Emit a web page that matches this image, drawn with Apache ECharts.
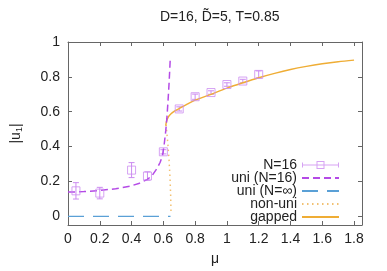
<!DOCTYPE html>
<html>
<head>
<meta charset="utf-8">
<script src="https://cdn.jsdelivr.net/npm/echarts@6/dist/echarts.min.js"></script>
<style>html,body{margin:0;padding:0;background:#fff}#c{width:387px;height:271px}</style>
</head>
<body>
<div id="c"></div>
<script>
// N=16 data points with error bars
var ptMu  = [0.05, 0.2, 0.4, 0.5, 0.6, 0.7, 0.8, 0.9, 1.0, 1.1, 1.2];
var ptU   = [0.146, 0.133, 0.265, 0.231, 0.37, 0.616, 0.686, 0.71, 0.756, 0.776, 0.814];
var ptErr = [0.047, 0.033, 0.043, 0.024, 0.012, 0.012, 0.015, 0.01, 0.01, 0.01, 0.02];
// uni (N=16)
var uniMu = [0, 0.05, 0.1, 0.2, 0.3, 0.4, 0.45, 0.5, 0.53, 0.56, 0.58, 0.595, 0.605, 0.615, 0.622, 0.63, 0.637, 0.643];
var uniU  = [0.14, 0.14, 0.142, 0.148, 0.158, 0.175, 0.19, 0.212, 0.235, 0.275, 0.31, 0.35, 0.41, 0.49, 0.56, 0.67, 0.78, 0.895];
// uni (N=inf)
var infMu = [0, 0.645];
var infU  = [0, 0];
// non-uni
var nonMu = [0.648, 0.646, 0.642, 0.636, 0.628, 0.617];
var nonU  = [0.03, 0.12, 0.22, 0.32, 0.42, 0.525];
// gapped
var gapMu = [0.615, 0.62, 0.63, 0.645, 0.67, 0.7, 0.75, 0.8, 0.9, 1.0, 1.1, 1.2, 1.3, 1.4, 1.5, 1.6, 1.7, 1.8];
var gapU  = [0.52, 0.545, 0.568, 0.585, 0.603, 0.618, 0.643, 0.666, 0.70, 0.735, 0.766, 0.795, 0.82, 0.842, 0.86, 0.875, 0.887, 0.896];
// ticks
var xTicks = [0, 0.2, 0.4, 0.6, 0.8, 1, 1.2, 1.4, 1.6, 1.8];
var yTicks = [0, 0.2, 0.4, 0.6, 0.8, 1];

function zip(a, b) { return a.map(function (v, i) { return [v, b[i]]; }); }

var ptColor = '#cc8cf0';
var uniColor = '#b44ae6';
var infColor = '#5aa0d6';
var nonColor = '#f2c070';
var gapColor = '#efad35';
var frame = '#666';
var font = 'Liberation Sans, Arial, sans-serif';

var errIcon = 'path://M0,3.5h37v1h-37z M0,1.5h1v5h-1z M36,1.5h1v5h-1z M14.5,0h8v1h-8z M14.5,7h8v1h-8z M14.5,0h1v8h-1z M21.5,0h1v8h-1z';
var hideSym = {opacity: 0};

var chart = echarts.init(document.getElementById('c'), null, {renderer: 'canvas'});
var axisCommon = {
  type: 'value',
  axisLine: {show: true, onZero: false, lineStyle: {color: frame, width: 1}},
  splitLine: {show: false}
};
chart.setOption({
  animation: false,
  backgroundColor: '#fff',
  textStyle: {fontFamily: font},
  title: {
    text: 'D=16, D\u0303=5, T=0.85',
    left: 155, top: 5,
    textStyle: {fontSize: 14, fontWeight: 'normal', color: '#222', fontFamily: font}
  },
  grid: {left: 68, right: 25, top: 42, bottom: 45},
  legend: {
    right: 42, top: 153, orient: 'vertical', align: 'right',
    itemWidth: 37, itemHeight: 8, itemGap: -1,
    textStyle: {fontSize: 14, lineHeight: 14, color: '#222', fontFamily: font},
    data: [
      {name: 'N=16', icon: errIcon, itemStyle: {color: ptColor, borderWidth: 0}},
      {name: 'uni (N=16)', itemStyle: hideSym},
      {name: 'uni (N=\u221e)', itemStyle: hideSym},
      {name: 'non-uni', itemStyle: hideSym},
      {name: 'gapped', itemStyle: hideSym}
    ]
  },
  xAxis: [
    Object.assign({}, axisCommon, {
      min: 0, max: 1.85, position: 'bottom',
      name: '\u03bc', nameLocation: 'middle', nameGap: 27,
      nameTextStyle: {fontSize: 14, color: '#222', fontFamily: font},
      axisTick: {show: true, inside: true, length: 4, customValues: xTicks, lineStyle: {color: frame}},
      axisLabel: {show: true, margin: 7, fontSize: 14, color: '#222', fontFamily: font, customValues: xTicks}
    }),
    Object.assign({}, axisCommon, {
      min: 0, max: 1.85, position: 'top',
      axisTick: {show: true, inside: true, length: 4, customValues: xTicks, lineStyle: {color: frame}},
      axisLabel: {show: false}
    })
  ],
  yAxis: [
    Object.assign({}, axisCommon, {
      min: -0.05, max: 1, position: 'left',
      name: '|u{s|1}|', nameLocation: 'middle', nameGap: 44, nameRotate: 90,
      nameTextStyle: {fontSize: 14, color: '#222', fontFamily: font,
        rich: {s: {fontSize: 9, verticalAlign: 'bottom', padding: [6, 0, 0, 0], fontFamily: font, color: '#222'}}},
      axisTick: {show: true, inside: true, length: 4, customValues: yTicks, lineStyle: {color: frame}},
      axisLabel: {show: true, margin: 8, fontSize: 14, color: '#222', fontFamily: font, customValues: yTicks}
    }),
    Object.assign({}, axisCommon, {
      min: -0.05, max: 1, position: 'right',
      axisTick: {show: true, inside: true, length: 4, customValues: yTicks, lineStyle: {color: frame}},
      axisLabel: {show: false}
    })
  ],
  series: [
    {
      name: 'uni (N=\u221e)', type: 'line', data: zip(infMu, infU), showSymbol: false, symbol: 'none',
      lineStyle: {color: infColor, width: 1.3, type: [16, 9]}, itemStyle: {color: infColor}
    },
    {
      name: 'non-uni', type: 'line', data: zip(nonMu, nonU), showSymbol: false, symbol: 'none',
      lineStyle: {color: nonColor, width: 1.5, type: [1.5, 3.5]}, itemStyle: {color: nonColor}
    },
    {
      name: 'gapped', type: 'line', data: zip(gapMu, gapU), showSymbol: false, symbol: 'none', smooth: 0.3,
      lineStyle: {color: gapColor, width: 1.4}, itemStyle: {color: gapColor}
    },
    {
      name: 'uni (N=16)', type: 'line', data: zip(uniMu, uniU), showSymbol: false, symbol: 'none',
      lineStyle: {color: uniColor, width: 1.5, type: [7, 4]}, itemStyle: {color: uniColor}
    },
    {
      name: 'N=16 err', type: 'custom',
      data: ptMu.map(function (m, i) { return [m, ptU[i], ptErr[i]]; }),
      renderItem: function (params, api) {
        var x = api.value(0), y = api.value(1), e = api.value(2);
        var lo = api.coord([x, y - e]);
        var hi = api.coord([x, y + e]);
        var s = {stroke: ptColor, lineWidth: 1};
        return {type: 'group', children: [
          {type: 'line', shape: {x1: lo[0], y1: lo[1], x2: hi[0], y2: hi[1]}, style: s},
          {type: 'line', shape: {x1: lo[0] - 3, y1: lo[1], x2: lo[0] + 3, y2: lo[1]}, style: s},
          {type: 'line', shape: {x1: hi[0] - 3, y1: hi[1], x2: hi[0] + 3, y2: hi[1]}, style: s}
        ]};
      },
      z: 3
    },
    {
      name: 'N=16', type: 'scatter', data: zip(ptMu, ptU),
      symbol: 'rect', symbolSize: 8,
      itemStyle: {color: 'rgba(0,0,0,0)', borderColor: ptColor, borderWidth: 1},
      z: 4
    }
  ]
});
</script>
</body>
</html>
